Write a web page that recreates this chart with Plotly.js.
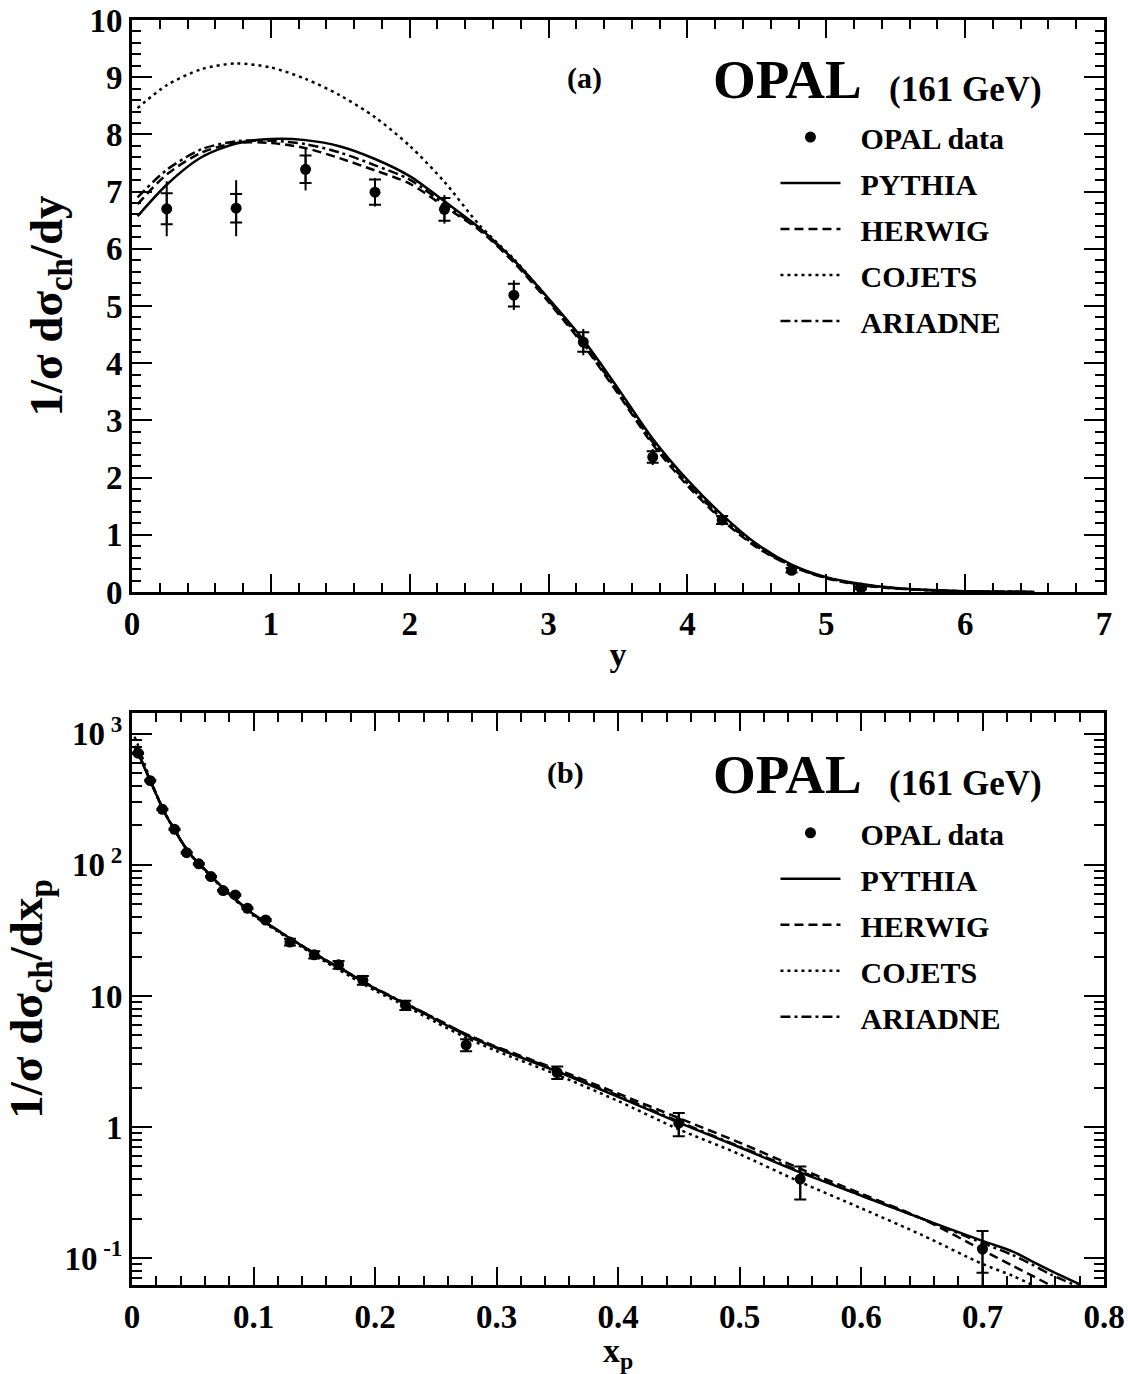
<!DOCTYPE html>
<html>
<head>
<meta charset="utf-8">
<script src="https://cdn.plot.ly/plotly-3.0.1.min.js"></script>
<style>html,body{margin:0;padding:0;background:#fff;}#plot{width:1128px;height:1374px;}</style>
</head>
<body>
<div id="plot"></div>
<script>
// ---------- Panel (a): rapidity ----------
const yData = [0.25, 0.75, 1.25, 1.75, 2.25, 2.75, 3.25, 3.75, 4.25, 4.75, 5.25];
const yDataVal = [6.70, 6.71, 7.39, 6.99, 6.69, 5.19, 4.37, 2.36, 1.26, 0.38, 0.07];
const yDataStat = [0.27, 0.25, 0.24, 0.22, 0.20, 0.20, 0.17, 0.10, 0.07, 0.04, 0.02];
const yDataTot = [0.48, 0.49, 0.37, 0.25, 0.25, 0.26, 0.23, 0.14, 0.09, 0.05, 0.02];

const yGrid = [0.04, 0.25, 0.5, 0.75, 1.0, 1.25, 1.5, 1.75, 2.0, 2.25, 2.5, 2.75, 3.0, 3.25, 3.5, 3.75, 4.0, 4.25, 4.5, 4.75, 5.0, 5.25, 5.5, 5.75, 6.0, 6.25, 6.5];
const yPythia  = [6.57, 7.12, 7.60, 7.84, 7.92, 7.90, 7.79, 7.57, 7.27, 6.83, 6.37, 5.80, 5.13, 4.41, 3.56, 2.68, 1.96, 1.35, 0.84, 0.48, 0.26, 0.14, 0.07, 0.035, 0.015, 0.006, 0.002];
const yHerwig  = [6.78, 7.30, 7.68, 7.85, 7.85, 7.76, 7.58, 7.37, 7.14, 6.74, 6.33, 5.76, 5.07, 4.32, 3.47, 2.58, 1.86, 1.26, 0.78, 0.45, 0.24, 0.12, 0.06, 0.03, 0.012, 0.005, 0.002];
const yCojets  = [8.46, 8.86, 9.14, 9.24, 9.17, 8.97, 8.68, 8.30, 7.80, 7.17, 6.42, 5.82, 5.12, 4.35, 3.50, 2.62, 1.90, 1.28, 0.80, 0.46, 0.25, 0.13, 0.065, 0.03, 0.013, 0.005, 0.002];
const yAriadne = [6.90, 7.38, 7.74, 7.88, 7.89, 7.83, 7.68, 7.46, 7.21, 6.78, 6.35, 5.79, 5.10, 4.35, 3.50, 2.62, 1.90, 1.30, 0.80, 0.46, 0.25, 0.13, 0.065, 0.03, 0.013, 0.005, 0.002];

// ---------- Panel (b): scaled momentum ----------
const xpData = [0.005, 0.015, 0.025, 0.035, 0.045, 0.055, 0.065, 0.075, 0.085, 0.095, 0.11, 0.13, 0.15, 0.17, 0.19, 0.225, 0.275, 0.35, 0.45, 0.55, 0.70];
const xpDataVal = [713, 440, 266, 187, 124, 102, 81.5, 63.7, 59, 46.7, 38, 25.8, 20.6, 17.3, 13.2, 8.5, 4.23, 2.60, 1.07, 0.40, 0.117];
const xpStatUp = [8, 5, 3, 2, 1.5, 1.2, 1.0, 0.8, 0.8, 0.7, 0.6, 1.5, 1.3, 1.2, 1.0, 0.7, 0.45, 0.30, 0.21, 0.10, 0.044];
const xpStatDn = [8, 5, 3, 2, 1.5, 1.2, 1.0, 0.8, 0.8, 0.7, 0.6, 1.5, 1.3, 1.2, 1.0, 0.7, 0.45, 0.28, 0.22, 0.12, 0.040];
const xpTotUp  = [8, 5, 3, 2, 1.5, 1.2, 1.0, 0.8, 0.8, 0.7, 0.6, 1.5, 1.3, 1.2, 1.0, 0.7, 0.45, 0.30, 0.21, 0.10, 0.046];
const xpTotDn  = [8, 5, 3, 2, 1.5, 1.2, 1.0, 0.8, 0.8, 0.7, 0.6, 1.5, 1.3, 1.2, 1.0, 0.7, 0.45, 0.28, 0.22, 0.12, 0.070];

const xpGrid = [0.002, 0.005, 0.01, 0.015, 0.02, 0.025, 0.03, 0.035, 0.04, 0.045, 0.05, 0.06, 0.07, 0.08, 0.09, 0.10, 0.12, 0.14, 0.16, 0.18, 0.20, 0.225, 0.25, 0.275, 0.30, 0.35, 0.40, 0.45, 0.50, 0.55, 0.60, 0.65, 0.70, 0.725, 0.74, 0.756, 0.78];
const xpPythia  = [790, 710, 560, 440, 345, 272, 222, 187, 155, 132, 115, 92, 74, 60, 50, 42, 31.6, 24.1, 18.6, 14.6, 11.4, 8.7, 6.6, 5.0, 4.0, 2.65, 1.70, 1.08, 0.70, 0.45, 0.30, 0.20, 0.135, 0.112, 0.095, 0.080, 0.063];
const xpHerwig  = [810, 720, 565, 442, 346, 272, 222, 187, 155, 132, 115, 92, 74, 60, 50, 42, 31.6, 24.0, 18.5, 14.5, 11.4, 8.7, 6.7, 5.1, 4.1, 2.75, 1.80, 1.17, 0.76, 0.48, 0.31, 0.20, 0.115, 0.087, 0.074, 0.062, 0.050];
const xpCojets  = [950, 820, 600, 450, 348, 272, 221, 186, 154, 131, 114, 91, 73, 59, 49, 41, 31.0, 23.5, 18.0, 14.0, 11.0, 8.4, 6.3, 4.8, 3.8, 2.50, 1.58, 0.96, 0.62, 0.38, 0.24, 0.15, 0.090, 0.073, 0.063, 0.053, 0.045];
const xpAriadne = [800, 715, 562, 441, 345, 272, 222, 187, 155, 132, 115, 92, 74, 60, 50, 42, 31.7, 24.2, 18.7, 14.7, 11.5, 8.8, 6.7, 5.1, 4.05, 2.70, 1.74, 1.10, 0.71, 0.46, 0.30, 0.20, 0.130, 0.105, 0.090, 0.075, 0.060];

const dataName = 'OPAL data';
const names = ['PYTHIA', 'HERWIG', 'COJETS', 'ARIADNE'];
const dashes = ['solid', '9px,5px', '3px,4px', '10px,4px,3px,4px'];

const serif = 'Liberation Serif, Times New Roman, serif';
const fontBold = (s) => ({family: serif, size: s, color: 'black', weight: 'bold'});
const pad = '\u00a0\u00a0';

function modelTraces(x, ys, xa, ya, leg) {
  return ys.map((y, i) => ({
    type: 'scatter', mode: 'lines', x: x, y: y, xaxis: xa, yaxis: ya,
    name: pad + names[i], legend: leg, legendgroup: leg + names[i],
    line: {color: 'black', width: 2.5, dash: dashes[i], shape: 'spline', smoothing: 0.8}
  }));
}

const traces = [];
// Panel a data: total error (no caps) then stat error (caps) with markers
traces.push({type: 'scatter', mode: 'markers', x: yData, y: yDataVal, xaxis: 'x', yaxis: 'y', showlegend: false, hoverinfo: 'skip',
  marker: {size: 1, color: 'rgba(0,0,0,0)'},
  error_y: {type: 'data', array: yDataTot, color: 'black', thickness: 2, width: 0}});
traces.push({type: 'scatter', mode: 'markers', x: yData, y: yDataVal, xaxis: 'x', yaxis: 'y', name: pad + dataName, legend: 'legend', legendgroup: 'a-data',
  marker: {size: 11, color: 'black'},
  error_y: {type: 'data', array: yDataStat, color: 'black', thickness: 2, width: 6}});
traces.push(...modelTraces(yGrid, [yPythia, yHerwig, yCojets, yAriadne], 'x', 'y', 'legend'));

// Panel b
traces.push({type: 'scatter', mode: 'markers', x: xpData, y: xpDataVal, xaxis: 'x2', yaxis: 'y2', showlegend: false, hoverinfo: 'skip',
  marker: {size: 1, color: 'rgba(0,0,0,0)'},
  error_y: {type: 'data', symmetric: false, array: xpTotUp, arrayminus: xpTotDn, color: 'black', thickness: 2, width: 0}});
traces.push({type: 'scatter', mode: 'markers', x: xpData, y: xpDataVal, xaxis: 'x2', yaxis: 'y2', name: pad + dataName, legend: 'legend2', legendgroup: 'b-data',
  marker: {size: 11, color: 'black'},
  error_y: {type: 'data', symmetric: false, array: xpStatUp, arrayminus: xpStatDn, color: 'black', thickness: 2, width: 6}});
traces.push(...modelTraces(xpGrid, [xpPythia, xpHerwig, xpCojets, xpAriadne], 'x2', 'y2', 'legend2'));

const axisCommon = {
  showgrid: false, zeroline: false, showline: true, linecolor: 'black', linewidth: 3,
  mirror: 'ticks', ticks: 'inside', ticklen: 18, tickwidth: 2, tickcolor: 'black',
  tickfont: fontBold(33)
};

const legendCommon = {xanchor: 'left', yanchor: 'top', bgcolor: 'rgba(0,0,0,0)',
  font: fontBold(30), itemwidth: 60, traceorder: 'grouped', tracegroupgap: 4};

const ann = (x, y, text, size) => ({xref: 'paper', yref: 'paper', x: x, y: y, xanchor: 'center', yanchor: 'middle',
  text: text, showarrow: false, font: fontBold(size)});

const layout = {
  width: 1128, height: 1374,
  margin: {l: 132, r: 24, t: 20, b: 89},
  paper_bgcolor: 'white', plot_bgcolor: 'white',
  font: {family: serif, color: 'black'},
  xaxis: Object.assign({}, axisCommon, {
    domain: [0, 1], anchor: 'y', range: [0, 7], dtick: 1,
    minor: {dtick: 0.2, ticklen: 9, tickwidth: 2, tickcolor: 'black', ticks: 'inside'},
    title: {text: 'y', font: fontBold(34), standoff: 2}
  }),
  yaxis: Object.assign({}, axisCommon, {
    domain: [0.5478, 1], anchor: 'x', range: [0, 10], dtick: 1, ticklen: 20,
    minor: {dtick: 0.2, ticklen: 9, tickwidth: 2, tickcolor: 'black', ticks: 'inside'},
    title: {text: '1/σ dσ<sub>ch</sub>/dy', font: fontBold(47), standoff: 12}
  }),
  xaxis2: Object.assign({}, axisCommon, {
    domain: [0, 1], anchor: 'y2', range: [0, 0.8],
    tickvals: [0, 0.1, 0.2, 0.3, 0.4, 0.5, 0.6, 0.7, 0.8],
    ticktext: ['0', '0.1', '0.2', '0.3', '0.4', '0.5', '0.6', '0.7', '0.8'],
    minor: {dtick: 0.02, ticklen: 9, tickwidth: 2, tickcolor: 'black', ticks: 'inside'},
    title: {text: 'x<sub>p</sub>', font: fontBold(34), standoff: 6}
  }),
  yaxis2: Object.assign({}, axisCommon, {
    domain: [0, 0.4522], anchor: 'x2', type: 'log', range: [Math.log10(0.0622), Math.log10(1445)],
    tickvals: [0.1, 1, 10, 100, 1000],
    ticktext: ['10<sup> -1</sup>', '1', '10', '10<sup> 2</sup>', '10<sup> 3</sup>'],
    ticklen: 20,
    minor: {dtick: 'D1', ticklen: 10, tickwidth: 2, tickcolor: 'black', ticks: 'inside'},
    title: {text: '1/σ dσ<sub>ch</sub>/dx<sub>p</sub>', font: fontBold(47), standoff: 12}
  }),
  legend: Object.assign({}, legendCommon, {x: 0.662, y: 0.928}),
  legend2: Object.assign({}, legendCommon, {x: 0.662, y: 0.378}),
  annotations: [
    ann(0.466, 0.954, '(a)', 30),
    ann(0.674, 0.9526, 'OPAL', 55),
    ann(0.858, 0.9447, '(161 GeV)', 35),
    ann(0.4455, 0.4047, '(b)', 30),
    ann(0.674, 0.4032, 'OPAL', 55),
    ann(0.858, 0.3968, '(161 GeV)', 35)
  ]
};

Plotly.newPlot('plot', traces, layout, {staticPlot: true, displayModeBar: false});
</script>
</body>
</html>
